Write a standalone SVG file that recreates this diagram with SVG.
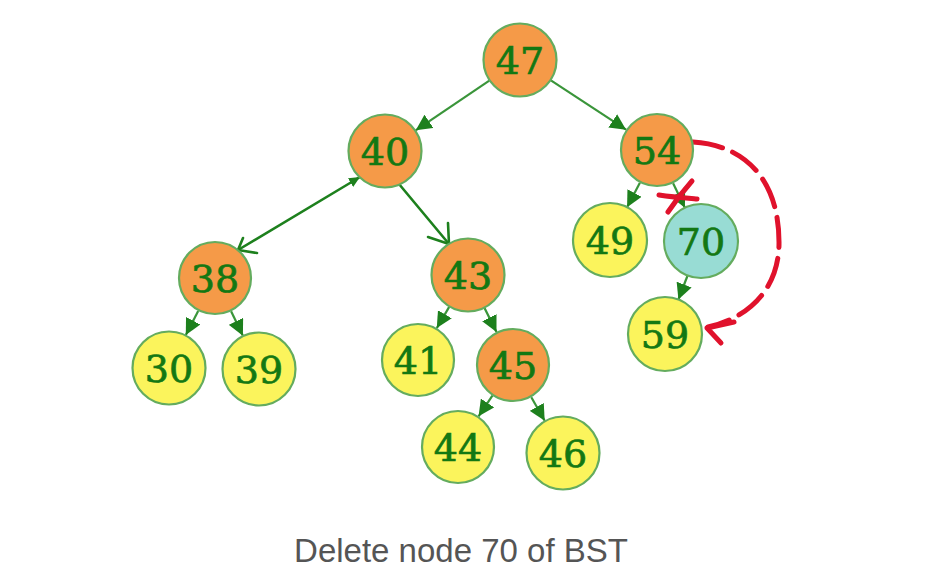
<svg xmlns="http://www.w3.org/2000/svg" width="948" height="576" viewBox="0 0 948 576">
<style>
.n circle{stroke:#64ac5e;stroke-width:2.2}
.o circle{fill:#f59a48}
.y circle{fill:#fbf45c}
.t circle{fill:#98dcd4}
.n text{font-family:"DejaVu Serif",serif;font-size:38px;fill:#137813;stroke:#137813;stroke-width:0.7;text-anchor:middle}
.e{stroke:#3a953a;stroke-width:2.2;fill:none;marker-end:url(#ah)}
.h{stroke:#1d801d;stroke-width:2.6;fill:none;stroke-linecap:round;stroke-linejoin:round}
.r{stroke:#e0122c;stroke-width:5;fill:none;stroke-linecap:round;stroke-linejoin:round}
</style>
<defs>
<marker id="ah" markerUnits="userSpaceOnUse" markerWidth="17" markerHeight="16" refX="16" refY="8" orient="auto">
<path d="M0,0 L16,8 L0,16 z" fill="#1d801d"/>
</marker>
<marker id="ah2" markerUnits="userSpaceOnUse" markerWidth="12" markerHeight="10" refX="11" refY="5" orient="auto">
<path d="M0,0 L11,5 L0,10 z" fill="#1d801d"/>
</marker>
</defs>
<rect width="948" height="576" fill="#fff"/>
<g id="connectors">
<line class="e" x1="489.3" y1="80.7" x2="415.7" y2="130.3"/>
<line class="e" x1="550.9" y1="80.3" x2="626.1" y2="129.7"/>
<line class="e" x1="198.2" y1="311" x2="185.8" y2="335"/>
<line class="e" x1="231.1" y1="311.3" x2="242.9" y2="335.7"/>
<line class="e" x1="449.2" y1="306.9" x2="436.8" y2="328.1"/>
<line class="e" x1="484.5" y1="308.1" x2="496.5" y2="332"/>
<line class="e" x1="492.4" y1="395.7" x2="478.6" y2="416.3"/>
<line class="e" x1="531.3" y1="397.2" x2="544.7" y2="420.8"/>
<line class="e" x1="639.9" y1="182.8" x2="627.1" y2="207.2"/>
<line class="e" x1="673.1" y1="183.3" x2="684.9" y2="207.7"/>
<line class="e" x1="687.6" y1="275.5" x2="678.4" y2="299.5"/>
<line class="h" x1="238" y1="250" x2="360" y2="177" marker-end="url(#ah2)"/>
<path class="h" d="M243,238 L238,250 L257,253"/>
<path class="h" d="M399,184 L449,244"/>
<path class="h" d="M448,223 L449,244 L428,237"/>
<path class="r" d="M693,142 C745,145 780,180 779,245 C778,290 748,318 708,327" stroke-dasharray="30 11"/>
<path class="r" d="M734,322 L707,328 L721,343"/>
<path class="r" d="M659,195 C672,197 685,198 697,199"/>
<path class="r" d="M668,212 C676,200 684,190 692,181"/>
</g>
<g id="n47" class="n o"><circle cx="520" cy="60" r="36.5"/><text x="520" y="74">47</text></g>
<g id="n40" class="n o"><circle cx="385" cy="151" r="36.5"/><text x="385" y="165">40</text></g>
<g id="n54" class="n o"><circle cx="657" cy="150" r="36"/><text x="657" y="164">54</text></g>
<g id="n38" class="n o"><circle cx="215" cy="278" r="36"/><text x="215" y="292">38</text></g>
<g id="n30" class="n y"><circle cx="169" cy="368" r="36.5"/><text x="169" y="382">30</text></g>
<g id="n39" class="n y"><circle cx="259" cy="369" r="36.5"/><text x="259" y="383">39</text></g>
<g id="n43" class="n o"><circle cx="468" cy="275" r="36.5"/><text x="468" y="289">43</text></g>
<g id="n41" class="n y"><circle cx="418" cy="360" r="36"/><text x="418" y="374">41</text></g>
<g id="n45" class="n o"><circle cx="513" cy="365" r="36"/><text x="513" y="379">45</text></g>
<g id="n44" class="n y"><circle cx="458" cy="447" r="36"/><text x="458" y="461">44</text></g>
<g id="n46" class="n y"><circle cx="563" cy="453" r="36.5"/><text x="563" y="467">46</text></g>
<g id="n49" class="n y"><circle cx="610" cy="240" r="37"/><text x="610" y="254">49</text></g>
<g id="n70" class="n t"><circle cx="701" cy="241" r="37"/><text x="701" y="255">70</text></g>
<g id="n59" class="n y"><circle cx="665" cy="334" r="37"/><text x="665" y="348">59</text></g>
<text x="461" y="562" font-family="Liberation Sans, Arial, sans-serif" font-size="33" fill="#555" text-anchor="middle">Delete node 70 of BST</text>
</svg>
